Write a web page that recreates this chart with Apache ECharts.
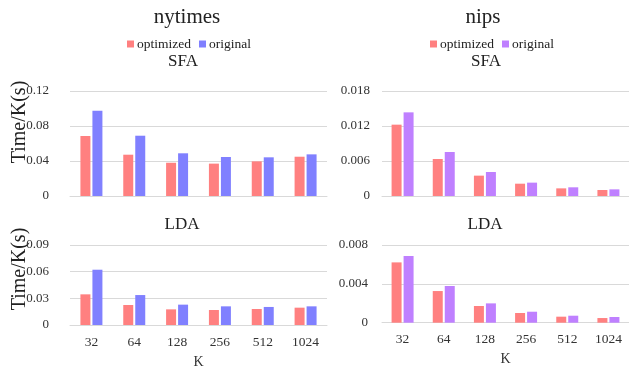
<!DOCTYPE html>
<html>
<head>
<meta charset="utf-8">
<script src="https://cdn.jsdelivr.net/npm/echarts@6/dist/echarts.min.js"></script>
<style>
  html, body { margin: 0; padding: 0; background: #fff; }
  #chart { width: 629px; height: 373px; }
</style>
</head>
<body>
<div id="chart"></div>
<script>
// Per-topic time (seconds per topic) for the two datasets, SFA and LDA samplers
const categories = ['32', '64', '128', '256', '512', '1024'];

const nytimesSfaOptimized = [0.0686, 0.0472, 0.0380, 0.0370, 0.0396, 0.0449];
const nytimesSfaOriginal  = [0.0975, 0.0689, 0.0488, 0.0446, 0.0442, 0.0476];
const nipsSfaOptimized    = [0.01223, 0.00634, 0.00349, 0.00211, 0.00131, 0.00103];
const nipsSfaOriginal     = [0.01434, 0.00754, 0.00411, 0.00229, 0.00149, 0.00114];

const nytimesLdaOptimized = [0.0345, 0.0225, 0.0176, 0.0169, 0.0180, 0.0195];
const nytimesLdaOriginal  = [0.0622, 0.0337, 0.0229, 0.0210, 0.0203, 0.0210];
const nipsLdaOptimized    = [0.00621, 0.00326, 0.00172, 0.00100, 0.00062, 0.00048];
const nipsLdaOriginal     = [0.00687, 0.00378, 0.00199, 0.00113, 0.00072, 0.00059];

const FONT = '"Liberation Serif", "Times New Roman", serif';
const RED = '#FF8080';
const BLUE = '#8080FF';
const PURPLE = '#BF80FF';
const GRID_LINE = '#d9d9d9';
const TEXT = '#222';
const TICK = '#333';

const grids = [
  { left: 70,  top: 91,  width: 257, height: 105 },
  { left: 382, top: 91,  width: 249, height: 105 },
  { left: 70,  top: 245, width: 257, height: 80 },
  { left: 382, top: 245, width: 249, height: 77.7 }
];

function xAxis(gridIndex, showLabels) {
  return {
    type: 'category',
    gridIndex,
    data: categories,
    axisLine: { show: true, lineStyle: { color: GRID_LINE } },
    axisTick: { show: false },
    axisLabel: {
      show: showLabels, fontFamily: FONT, fontSize: 13.5, color: TICK, margin: 10
    },
    name: showLabels ? 'K' : '',
    nameLocation: 'middle',
    nameGap: 30,
    nameTextStyle: { fontFamily: FONT, fontSize: 14, color: TICK }
  };
}

function yAxis(gridIndex, max, interval, margin) {
  return {
    type: 'value',
    gridIndex,
    min: 0,
    max,
    interval,
    axisLine: { show: false },
    axisTick: { show: false },
    splitLine: { lineStyle: { color: GRID_LINE } },
    axisLabel: { fontFamily: FONT, fontSize: 13, color: TICK, margin }
  };
}

function bars(name, data, color, idx) {
  return {
    type: 'bar',
    name,
    data,
    xAxisIndex: idx,
    yAxisIndex: idx,
    barWidth: 10,
    barGap: '20%',
    itemStyle: { color },
    emphasis: { disabled: true }
  };
}

function legend(left) {
  return {
    left,
    top: 32,
    itemWidth: 7,
    itemHeight: 7,
    itemGap: 8,
    icon: 'rect',
    selectedMode: false,
    textStyle: { fontFamily: FONT, fontSize: 13.5, color: TEXT, padding: [0, 0, 0, -2] }
  };
}

function label(text, x, y, size, vertical) {
  return {
    type: 'text',
    x, y,
    rotation: vertical ? Math.PI / 2 : 0,
    style: {
      text,
      fontFamily: FONT,
      fontSize: size,
      fill: TEXT,
      textAlign: 'center',
      textVerticalAlign: 'middle'
    }
  };
}

const chart = echarts.init(document.getElementById('chart'));
chart.setOption({
  animation: false,
  backgroundColor: '#fff',
  grid: grids,
  xAxis: [xAxis(0, false), xAxis(1, false), xAxis(2, true), xAxis(3, true)],
  yAxis: [
    yAxis(0, 0.12, 0.04, 21),
    yAxis(1, 0.018, 0.006, 12),
    yAxis(2, 0.09, 0.03, 21),
    yAxis(3, 0.008, 0.004, 14)
  ],
  legend: [
    Object.assign(legend(122), {
      data: [
        { name: 'optimized', itemStyle: { color: RED } },
        { name: 'original', itemStyle: { color: BLUE } }
      ]
    }),
    Object.assign(legend(425), {
      data: [
        { name: 'optimized', itemStyle: { color: RED } },
        { name: 'original', itemStyle: { color: PURPLE } }
      ]
    })
  ],
  series: [
    bars('optimized', nytimesSfaOptimized, RED, 0),
    bars('original', nytimesSfaOriginal, BLUE, 0),
    bars('optimized', nipsSfaOptimized, RED, 1),
    bars('original', nipsSfaOriginal, PURPLE, 1),
    bars('optimized', nytimesLdaOptimized, RED, 2),
    bars('original', nytimesLdaOriginal, BLUE, 2),
    bars('optimized', nipsLdaOptimized, RED, 3),
    bars('original', nipsLdaOriginal, PURPLE, 3)
  ],
  graphic: [
    label('nytimes', 187, 17, 21),
    label('nips', 483, 17, 21),
    label('SFA', 183, 62, 17),
    label('SFA', 486, 62, 17),
    label('LDA', 182, 225, 17),
    label('LDA', 485, 225, 17),
    label('Time/K(s)', 20, 122, 20, true),
    label('Time/K(s)', 20, 269, 20, true)
  ]
});
</script>
</body>
</html>
